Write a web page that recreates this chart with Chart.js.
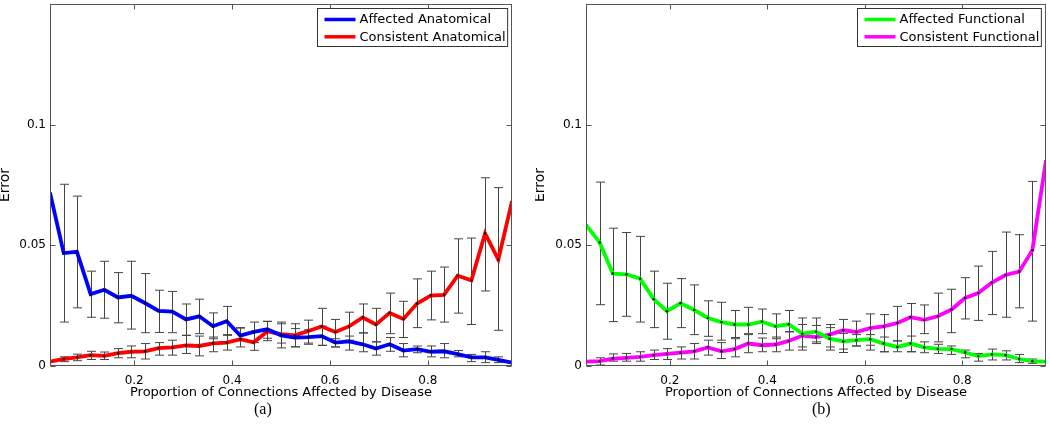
<!DOCTYPE html>
<html>
<head>
<meta charset="utf-8">
<script src="https://cdn.jsdelivr.net/npm/chart.js@4.4.1/dist/chart.umd.min.js"></script>
<style>
  body { margin: 0; background: #fff; width: 1050px; height: 437px; position: relative; overflow: hidden; }
  canvas { position: absolute; top: 0; }
  #panelA { left: 0; }
  #panelB { left: 535px; }
  .cap { position: absolute; top: 400px; font: 16px "Liberation Serif", serif; color: #000; }
</style>
</head>
<body>
<canvas id="panelA" width="516" height="402"></canvas>
<canvas id="panelB" width="515" height="402"></canvas>
<div class="cap" style="left:254px">(a)</div>
<div class="cap" style="left:812px">(b)</div>
<script>
// proportion of connections affected (x positions of the 35 samples)
const proportion = [0.028, 0.056, 0.083, 0.111, 0.139, 0.167, 0.194, 0.222, 0.25, 0.278,
    0.306, 0.333, 0.361, 0.389, 0.417, 0.444, 0.472, 0.5, 0.528, 0.556,
    0.583, 0.611, 0.639, 0.667, 0.694, 0.722, 0.75, 0.778, 0.806, 0.833,
    0.861, 0.889, 0.917, 0.944, 0.972];

// (a) anatomical
const affectedAnat = [0.0718, 0.0468, 0.0473, 0.0298, 0.0316, 0.0284, 0.0291, 0.0261, 0.0228, 0.0225,
    0.0193, 0.0206, 0.0165, 0.0186, 0.0126, 0.0141, 0.0152, 0.0127, 0.0118, 0.0120,
    0.0124, 0.0097, 0.0102, 0.0090, 0.0072, 0.0090, 0.0064, 0.0070, 0.0059, 0.0061,
    0.0049, 0.0036, 0.0036, 0.0025, 0.0014];
const affectedAnatHi = [null, 0.0753, 0.0704, 0.0393, 0.0434, 0.0387, 0.0434, 0.0383, 0.0314, 0.0309,
    0.0257, 0.0277, 0.0220, 0.0247, 0.0159, 0.0182, 0.0185, 0.0182, 0.0155, 0.0150,
    0.0165, 0.0113, 0.0124, 0.0137, 0.0100, 0.0118, 0.0093, 0.0083, 0.0083, 0.0093,
    0.0064, 0.0048, 0.0059, 0.0038, null];
const affectedAnatLo = [null, 0.0182, 0.0241, 0.0202, 0.0198, 0.0179, 0.0153, 0.0138, 0.0139, 0.0138,
    0.0127, 0.0134, 0.0113, 0.0127, 0.0105, 0.0097, 0.0115, 0.0075, 0.0080, 0.0090,
    0.0085, 0.0079, 0.0066, 0.0059, 0.0045, 0.0061, 0.0038, 0.0055, 0.0038, 0.0034,
    0.0038, 0.0018, 0.0014, 0.0014, null];

const consistentAnat = [0.0018, 0.0029, 0.0036, 0.0045, 0.0042, 0.0053, 0.0059, 0.0061, 0.0074, 0.0077,
    0.0085, 0.0083, 0.0094, 0.0097, 0.0111, 0.0098, 0.0143, 0.0132, 0.0127, 0.0145,
    0.0164, 0.0141, 0.0164, 0.0201, 0.0172, 0.0220, 0.0195, 0.0259, 0.0292, 0.0295,
    0.0374, 0.0355, 0.0549, 0.0441, 0.0683];
const consistentAnatHi = [null, 0.0038, 0.0049, 0.0061, 0.0058, 0.0072, 0.0083, 0.0093, 0.0097, 0.0107,
    0.0127, 0.0124, 0.0120, 0.0130, 0.0157, 0.0140, 0.0185, 0.0175, 0.0175, 0.0190,
    0.0239, 0.0193, 0.0223, 0.0257, 0.0239, 0.0302, 0.0268, 0.0361, 0.0393, 0.0410,
    0.0527, 0.0530, 0.0780, 0.0739, null];
const consistentAnatLo = [null, 0.0018, 0.0022, 0.0027, 0.0027, 0.0034, 0.0034, 0.0029, 0.0045, 0.0045,
    0.0052, 0.0042, 0.0059, 0.0066, 0.0079, 0.0065, 0.0105, 0.0095, 0.0079, 0.0095,
    0.0086, 0.0079, 0.0107, 0.0137, 0.0100, 0.0134, 0.0118, 0.0159, 0.0191, 0.0182,
    0.0219, 0.0172, 0.0311, 0.0148, null];

// (b) functional
const affectedFunc = [0.0585, 0.0512, 0.0383, 0.0380, 0.0362, 0.0277, 0.0227, 0.0260, 0.0232, 0.0199,
    0.0182, 0.0172, 0.0172, 0.0184, 0.0165, 0.0173, 0.0134, 0.0142, 0.0113, 0.0102,
    0.0107, 0.0111, 0.0093, 0.0079, 0.0093, 0.0077, 0.0071, 0.0070, 0.0056, 0.0041,
    0.0048, 0.0045, 0.0029, 0.0020, 0.0018];
const affectedFuncHi = [null, 0.0762, 0.0571, 0.0553, 0.0537, 0.0393, 0.0343, 0.0362, 0.0336, 0.0270,
    0.0264, 0.0230, 0.0243, 0.0236, 0.0216, 0.0230, 0.0199, 0.0199, 0.0159, 0.0135,
    0.0130, 0.0130, 0.0120, 0.0104, 0.0124, 0.0100, 0.0090, 0.0083, 0.0066, 0.0052,
    0.0070, 0.0063, 0.0048, 0.0029, null];
const affectedFuncLo = [null, 0.0254, 0.0184, 0.0206, 0.0182, 0.0159, 0.0111, 0.0159, 0.0130, 0.0123,
    0.0107, 0.0118, 0.0134, 0.0134, 0.0113, 0.0141, 0.0066, 0.0100, 0.0066, 0.0070,
    0.0083, 0.0086, 0.0059, 0.0059, 0.0059, 0.0055, 0.0052, 0.0048, 0.0034, 0.0020,
    0.0025, 0.0025, 0.0014, 0.0011, null];

const consistentFunc = [0.0018, 0.0020, 0.0031, 0.0034, 0.0038, 0.0045, 0.0050, 0.0055, 0.0061, 0.0077,
    0.0061, 0.0070, 0.0093, 0.0086, 0.0089, 0.0104, 0.0126, 0.0120, 0.0130, 0.0148,
    0.0141, 0.0157, 0.0164, 0.0178, 0.0202, 0.0191, 0.0206, 0.0234, 0.0282, 0.0302,
    0.0346, 0.0377, 0.0391, 0.0480, 0.0852];
const consistentFuncHi = [null, 0.0034, 0.0050, 0.0052, 0.0059, 0.0066, 0.0072, 0.0079, 0.0093, 0.0107,
    0.0097, 0.0113, 0.0130, 0.0116, 0.0120, 0.0143, 0.0172, 0.0168, 0.0172, 0.0193,
    0.0186, 0.0216, 0.0213, 0.0247, 0.0259, 0.0253, 0.0302, 0.0318, 0.0366, 0.0414,
    0.0475, 0.0555, 0.0544, 0.0765, null];
const consistentFuncLo = [null, 0.0004, 0.0020, 0.0020, 0.0020, 0.0027, 0.0027, 0.0029, 0.0029, 0.0045,
    0.0031, 0.0038, 0.0055, 0.0059, 0.0059, 0.0066, 0.0079, 0.0093, 0.0079, 0.0056,
    0.0083, 0.0066, 0.0059, 0.0104, 0.0059, 0.0134, 0.0100, 0.0138, 0.0195, 0.0189,
    0.0213, 0.0202, 0.0241, 0.0186, null];

const xTicks = [0.2, 0.4, 0.6, 0.8];
const xTickLabels = ['0.2', '0.4', '0.6', '0.8'];
const yTicks = [0, 0.05, 0.1];
const yTickLabels = ['0', '0.05', '0.1'];

Chart.defaults.font.family = "'DejaVu Sans', sans-serif";
Chart.defaults.font.size = 12;
Chart.defaults.color = '#000';

const axisColor = '#555';
const barColor = '#444';

function series(label, color, values, lo, hi) {
    return {
        label: label,
        data: values.map((v, i) => ({ x: proportion[i], y: v })),
        errLo: lo,
        errHi: hi,
        borderColor: color,
        backgroundColor: color,
        borderWidth: 3.8,
        pointRadius: 1.2,
        pointBackgroundColor: '#000',
        pointBorderWidth: 0,
        tension: 0
    };
}

// error bars, boxed axes with inward ticks, and the boxed legend
const matlabLook = {
    id: 'matlabLook',
    beforeDatasetsDraw(chart) {
        const { ctx, scales: { y } } = chart;
        ctx.save();
        ctx.strokeStyle = barColor;
        ctx.lineWidth = 1;
        chart.data.datasets.forEach((ds, i) => {
            chart.getDatasetMeta(i).data.forEach((pt, j) => {
                if (ds.errLo[j] == null) return;
                const x = Math.round(pt.x) + 0.5;
                const top = y.getPixelForValue(ds.errHi[j]);
                const bot = y.getPixelForValue(ds.errLo[j]);
                ctx.beginPath();
                ctx.moveTo(x, top); ctx.lineTo(x, bot);
                ctx.moveTo(x - 4.5, top); ctx.lineTo(x + 4.5, top);
                ctx.moveTo(x - 4.5, bot); ctx.lineTo(x + 4.5, bot);
                ctx.stroke();
            });
        });
        ctx.restore();
    },
    afterDraw(chart) {
        const { ctx, chartArea: a, scales: { x, y } } = chart;
        const L = Math.round(a.left) + 0.5, R = Math.round(a.right) - 0.5;
        const T = Math.round(a.top) + 0.5, B = Math.round(a.bottom) - 0.5;
        ctx.save();
        ctx.strokeStyle = axisColor;
        ctx.lineWidth = 1;
        ctx.strokeRect(L, T, R - L, B - T);
        ctx.beginPath();
        xTicks.forEach(v => {
            const px = Math.round(x.getPixelForValue(v)) + 0.5;
            ctx.moveTo(px, B); ctx.lineTo(px, B - 5);
            ctx.moveTo(px, T); ctx.lineTo(px, T + 5);
        });
        yTicks.forEach(v => {
            const py = Math.round(y.getPixelForValue(v)) + 0.5;
            ctx.moveTo(L, py); ctx.lineTo(L + 5, py);
            ctx.moveTo(R, py); ctx.lineTo(R - 5, py);
        });
        ctx.stroke();

        // legend
        ctx.font = "13px 'DejaVu Sans', sans-serif";
        const sets = chart.data.datasets;
        const w = Math.max(...sets.map(d => ctx.measureText(d.label).width)) + 44;
        const bx = Math.round(a.right - 5 - w) + 0.5, by = Math.round(a.top + 4) + 0.5;
        ctx.fillStyle = '#fff';
        ctx.fillRect(bx, by, w, 38);
        ctx.strokeStyle = '#333';
        ctx.strokeRect(bx, by, w, 38);
        sets.forEach((d, i) => {
            const ry = by + 11 + i * 17.3;
            ctx.strokeStyle = d.borderColor;
            ctx.lineWidth = 3.5;
            ctx.beginPath();
            ctx.moveTo(bx + 7, ry); ctx.lineTo(bx + 38, ry);
            ctx.stroke();
            ctx.fillStyle = '#000';
            ctx.textBaseline = 'middle';
            ctx.fillText(d.label, bx + 42, ry + 0.5);
        });
        ctx.restore();
    }
};

function makePanel(id, datasets, yAxisWidth, padRight) {
    return new Chart(document.getElementById(id), {
        type: 'line',
        data: { datasets: datasets },
        plugins: [matlabLook],
        options: {
            responsive: false,
            animation: false,
            devicePixelRatio: 1,
            layout: { padding: { top: 1, right: padRight, left: 0, bottom: 0 } },
            plugins: { legend: { display: false }, tooltip: { enabled: false } },
            scales: {
                x: {
                    type: 'linear',
                    min: proportion[0],
                    max: proportion[proportion.length - 1],
                    afterBuildTicks: s => { s.ticks = xTicks.map(v => ({ value: v })); },
                    afterFit: s => { s.height = 36; s.paddingLeft = 0; s.paddingRight = 0; },
                    ticks: { callback: (v, i) => xTickLabels[i], padding: 8, autoSkip: false, maxRotation: 0 },
                    grid: { display: false, drawTicks: false },
                    border: { display: false },
                    title: {
                        display: true,
                        text: 'Proportion of Connections Affected by Disease',
                        font: { size: 13 },
                        padding: { top: 0, bottom: 2 }
                    }
                },
                y: {
                    min: 0,
                    max: 0.15,
                    afterBuildTicks: s => { s.ticks = yTicks.map(v => ({ value: v })); },
                    afterFit: s => { s.width = yAxisWidth; s.paddingTop = 0; s.paddingBottom = 0; },
                    ticks: { callback: (v, i) => yTickLabels[i], padding: 4, autoSkip: false },
                    grid: { display: false, drawTicks: false },
                    border: { display: false },
                    title: {
                        display: true,
                        text: 'Error',
                        font: { size: 14, lineHeight: 0.8 },
                        padding: { top: 0, bottom: 0 }
                    }
                }
            }
        }
    });
}

makePanel('panelA', [
    series('Affected Anatomical', '#0000ff', affectedAnat, affectedAnatLo, affectedAnatHi),
    series('Consistent Anatomical', '#ff0000', consistentAnat, consistentAnatLo, consistentAnatHi)
], 50, 3);

makePanel('panelB', [
    series('Affected Functional', '#00ff00', affectedFunc, affectedFuncLo, affectedFuncHi),
    series('Consistent Functional', '#ff00ff', consistentFunc, consistentFuncLo, consistentFuncHi)
], 51, 2);
</script>
</body>
</html>
